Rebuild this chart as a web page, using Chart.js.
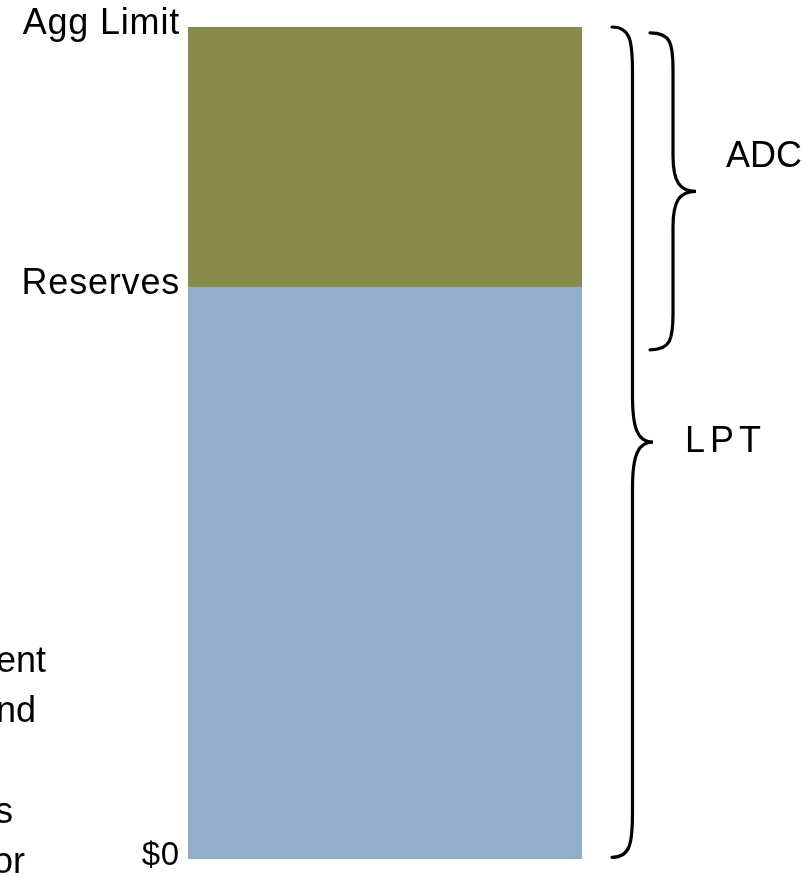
<!DOCTYPE html>
<html>
<head>
<meta charset="utf-8">
<script src="https://cdn.jsdelivr.net/npm/chart.js@4/dist/chart.umd.min.js"></script>
<style>
  html, body { margin: 0; padding: 0; background: #ffffff; }
  #wrap { width: 804px; height: 876px; }
</style>
</head>
<body>
<div id="wrap"><canvas id="chart" width="804" height="876"></canvas></div>
<script>
// Coverage levels on a 0–100 scale
const categories = [''];
const levelValues = [0, 68.75, 100];
const levelLabels = ['$0', 'Reserves', 'Agg Limit'];

// Stacked layers: reserves at the bottom, the remaining limit on top
const reservesLayer = [68.75];
const excessLayer = [100 - 68.75];

// Brackets along the right side (value ranges on the same scale)
const bracketLabels = ['ADC', 'LPT'];
const bracketFrom = [61.2, 0.2];
const bracketTo = [99.3, 100];

// Side note lines
const noteLines = ['Payment', 'and', '', 'losses', 'for'];

const FONT = "'Liberation Sans', Arial, sans-serif";

const spacingPlugin = {
  id: 'tickSpacing',
  beforeDraw(chart) { chart.ctx.letterSpacing = '0.8px'; },
  beforeDatasetsDraw(chart) { chart.ctx.letterSpacing = '0px'; }
};

function drawBrace(ctx, x0, yTop, yBot, depth, r) {
  const xs = x0 + depth / 2;
  const xt = x0 + depth;
  const tipY = (yTop + yBot) / 2;
  ctx.beginPath();
  ctx.moveTo(x0, yTop);
  ctx.bezierCurveTo(x0 + depth * 0.45, yTop, xs, yTop + r * 0.3, xs, yTop + r);
  ctx.lineTo(xs, tipY - r);
  ctx.bezierCurveTo(xs, tipY - r * 0.25, xs + depth * 0.15, tipY, xt, tipY);
  ctx.bezierCurveTo(xs + depth * 0.15, tipY, xs, tipY + r * 0.25, xs, tipY + r);
  ctx.lineTo(xs, yBot - r);
  ctx.bezierCurveTo(xs, yBot - r * 0.3, x0 + depth * 0.45, yBot, x0, yBot);
  ctx.stroke();
}

const annotationsPlugin = {
  id: 'annotations',
  afterDraw(chart) {
    const ctx = chart.ctx;
    const y = chart.scales.y;
    const right = chart.chartArea.right;
    ctx.save();
    ctx.strokeStyle = '#000000';
    ctx.lineWidth = 3.2;
    ctx.lineCap = 'round';
    // ADC bracket
    drawBrace(ctx, right + 68, y.getPixelForValue(bracketTo[0]), y.getPixelForValue(bracketFrom[0]), 46, 36);
    // LPT bracket
    drawBrace(ctx, right + 30, y.getPixelForValue(bracketTo[1]), y.getPixelForValue(bracketFrom[1]), 41, 46);

    ctx.fillStyle = '#000000';
    ctx.font = '36px ' + FONT;
    ctx.textBaseline = 'middle';
    ctx.textAlign = 'left';
    const adcMid = y.getPixelForValue((bracketFrom[0] + bracketTo[0]) / 2);
    const lptMid = y.getPixelForValue((bracketFrom[1] + bracketTo[1]) / 2);
    ctx.letterSpacing = '0px';
    ctx.fillText(bracketLabels[0], right + 144, adcMid - 34);
    ctx.letterSpacing = '5px';
    ctx.fillText(bracketLabels[1], right + 103, lptMid);

    // Note lines running off the left edge
    ctx.letterSpacing = '0px';
    ctx.font = '36px ' + FONT;
    ctx.textBaseline = 'alphabetic';
    ctx.textAlign = 'right';
    const ends = [46, 36, 0, 13, 25];
    noteLines.forEach((t, i) => {
      if (t) ctx.fillText(t, ends[i], 672 + i * 50.3);
    });
    ctx.restore();
  }
};

new Chart(document.getElementById('chart'), {
  type: 'bar',
  data: {
    labels: categories,
    datasets: [
      { label: 'Reserves', data: reservesLayer, backgroundColor: '#93adca', borderWidth: 0 },
      { label: 'Agg Limit', data: excessLayer, backgroundColor: '#878a4b', borderWidth: 0 }
    ]
  },
  options: {
    responsive: false,
    devicePixelRatio: 1,
    animation: false,
    layout: { padding: { left: 0, right: 222, top: 27, bottom: 17 } },
    datasets: { bar: { barPercentage: 1, categoryPercentage: 1 } },
    plugins: { legend: { display: false }, tooltip: { enabled: false } },
    scales: {
      x: { stacked: true, display: false },
      y: {
        stacked: true,
        min: 0,
        max: 100,
        grid: { display: false, drawTicks: false },
        border: { display: false },
        afterBuildTicks(scale) {
          scale.ticks = levelValues.map(v => ({ value: v }));
        },
        afterFit(scale) { scale.width = 188; },
        ticks: {
          autoSkip: false,
          padding: 8,
          labelOffset: -3,
          color: '#000000',
          font: (c) => ({ family: FONT, size: c.index === 0 ? 33 : 36, lineHeight: 0.2 }),
          callback(value, index) { return levelLabels[index]; }
        }
      }
    }
  },
  plugins: [spacingPlugin, annotationsPlugin]
});
</script>
</body>
</html>
